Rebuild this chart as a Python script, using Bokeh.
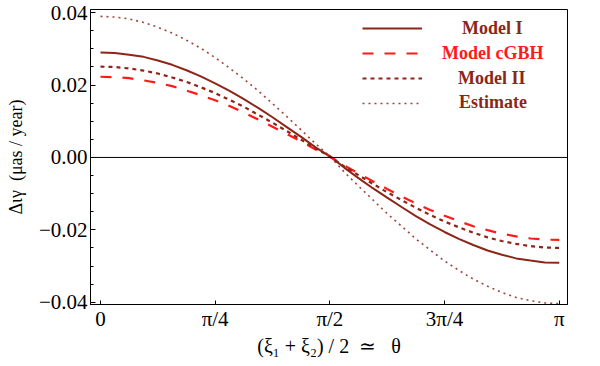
import math
from bokeh.plotting import figure
from bokeh.models import Range1d, FixedTicker, Span, Legend, LegendItem
from bokeh.embed import file_html
from bokeh.resources import INLINE

theta = [0.000, 0.098, 0.196, 0.295, 0.393, 0.491, 0.589, 0.687, 0.785, 0.884,
         0.982, 1.080, 1.178, 1.276, 1.374, 1.473, 1.571, 1.669, 1.767, 1.865,
         1.963, 2.062, 2.160, 2.258, 2.356, 2.454, 2.553, 2.651, 2.749, 2.847,
         2.945, 3.043, 3.142]

model_1 = [0.0290, 0.0289, 0.0284, 0.0278, 0.0268, 0.0256, 0.0241, 0.0224, 0.0205,
           0.0184, 0.0161, 0.0137, 0.0111, 0.0084, 0.0057, 0.0028, 0.0003,
           -0.0028, -0.0057, -0.0085, -0.0111, -0.0137, -0.0162, -0.0185, -0.0206,
           -0.0225, -0.0242, -0.0257, -0.0269, -0.0279, -0.0285, -0.0290, -0.0291]
model_cgbh = [0.0223, 0.0222, 0.0219, 0.0213, 0.0206, 0.0197, 0.0185, 0.0172, 0.0158,
              0.0142, 0.0124, 0.0105, 0.0085, 0.0065, 0.0044, 0.0022, 0.0003,
              -0.0022, -0.0044, -0.0066, -0.0087, -0.0108, -0.0127, -0.0145, -0.0161,
              -0.0176, -0.0190, -0.0201, -0.0211, -0.0218, -0.0224, -0.0227, -0.0228]
model_2 = [0.0251, 0.0250, 0.0246, 0.0240, 0.0232, 0.0221, 0.0209, 0.0194, 0.0178,
           0.0159, 0.0140, 0.0118, 0.0096, 0.0073, 0.0049, 0.0025, 0.0003,
           -0.0025, -0.0049, -0.0073, -0.0096, -0.0118, -0.0139, -0.0159, -0.0177,
           -0.0193, -0.0208, -0.0221, -0.0231, -0.0239, -0.0245, -0.0249, -0.0250]
estimate = [0.0390, 0.0388, 0.0383, 0.0373, 0.0360, 0.0344, 0.0324, 0.0302, 0.0276,
            0.0247, 0.0217, 0.0184, 0.0149, 0.0113, 0.0076, 0.0038, 0.0003,
            -0.0040, -0.0079, -0.0117, -0.0155, -0.0190, -0.0225, -0.0256, -0.0286,
            -0.0312, -0.0336, -0.0356, -0.0373, -0.0387, -0.0396, -0.0402, -0.0404]

x_tick_values = [0.0, math.pi / 4, math.pi / 2, 3 * math.pi / 4, math.pi]
x_tick_labels = ["0", "π/4", "π/2", "3π/4", "π"]
y_tick_values = [-0.04, -0.02, 0.0, 0.02, 0.04]
y_tick_labels = ["−0.04", "−0.02", "0.00", "0.02", "0.04"]
y_minor_values = [-0.035, -0.03, -0.025, -0.015, -0.01, -0.005,
                  0.005, 0.01, 0.015, 0.025, 0.03, 0.035]

series_labels = ["Model I", "Model cGBH", "Model II", "Estimate"]

BROWN = "#8c2618"
RED = "#ff1a1a"
SERIF = "Liberation Serif"
NB = "\u00a0"

p = figure(width=600, height=366, output_backend="svg", toolbar_location=None,
           x_range=Range1d(-0.0684, math.pi + 0.0568),
           y_range=Range1d(-0.04064, 0.04089),
           min_border_left=90, min_border_right=33,
           min_border_top=9, min_border_bottom=62)
p.margin = (0, 0, 0, 0)

p.background_fill_color = "white"
p.border_fill_color = "white"
p.outline_line_color = "black"
p.outline_line_width = 1
p.xgrid.visible = False
p.ygrid.visible = False

# zero line
p.add_layout(Span(location=0, dimension="width", line_color="black", line_width=1))

r1 = p.line(theta, model_1, line_color=BROWN, line_width=2)
r2 = p.line(theta, model_cgbh, line_color=RED, line_width=2.2, line_dash="11 11")
r3 = p.line(theta, model_2, line_color=BROWN, line_width=2.2, line_dash="4 4")
r4 = p.line(theta, estimate, line_color=BROWN, line_width=1.6, line_dash="2 4",
            line_alpha=0.85)

# axes
xa = p.xaxis[0]
xa.ticker = FixedTicker(ticks=x_tick_values)
xa.major_label_overrides = dict(zip(x_tick_values, x_tick_labels))
xa.major_tick_in = 4
xa.major_tick_out = 0
xa.minor_tick_in = 0
xa.minor_tick_out = 0
xa.axis_line_color = "black"
xa.major_label_text_font = SERIF
xa.major_label_text_font_size = "21px"
xa.major_label_text_color = "black"
xa.major_label_standoff = 2
xa.axis_label = "(ξ₁" + NB + "+" + NB + "ξ₂)" + NB + "/" + NB + "2" + NB * 2 + "≃" + NB * 3 + "θ"
xa.axis_label_text_font = SERIF
xa.axis_label_text_font_style = "normal"
xa.axis_label_text_font_size = "20px"
xa.axis_label_text_color = "black"
xa.axis_label_standoff = 1

ya = p.yaxis[0]
ya.ticker = FixedTicker(ticks=y_tick_values, minor_ticks=y_minor_values)
ya.major_label_overrides = dict(zip(y_tick_values, y_tick_labels))
ya.major_tick_in = 5
ya.major_tick_out = 0
ya.minor_tick_in = 3
ya.minor_tick_out = 0
ya.axis_line_color = "black"
ya.major_label_text_font = SERIF
ya.major_label_text_font_size = "21px"
ya.major_label_text_color = "black"
ya.major_label_standoff = 3
ya.axis_label = "Διγ" + NB * 2 + "(μas" + NB + "/" + NB + "year)"
ya.axis_label_text_font = SERIF
ya.axis_label_text_font_style = "normal"
ya.axis_label_text_font_size = "18px"
ya.axis_label_text_color = "black"
ya.axis_label_standoff = 10

# legend: one per entry so each label can have its own colour
legend_specs = [
    (series_labels[0], r1, BROWN, 40, 265.2),
    (series_labels[1], r2, RED, 20, 240.2),
    (series_labels[2], r3, BROWN, 36, 215.2),
    (series_labels[3], r4, BROWN, 37, 190.8),
]
for label, rend, col, standoff, vy in legend_specs:
    leg = Legend(items=[LegendItem(label=label, renderers=[rend])],
                 location=(272, vy), padding=0, margin=0, spacing=0,
                 glyph_width=60, glyph_height=20, label_height=20,
                 label_standoff=standoff,
                 label_text_font=SERIF, label_text_font_style="bold",
                 label_text_font_size="18px", label_text_color=col,
                 border_line_color=None, background_fill_alpha=0)
    p.add_layout(leg)

open("out.html", "w").write(file_html(p, INLINE))
